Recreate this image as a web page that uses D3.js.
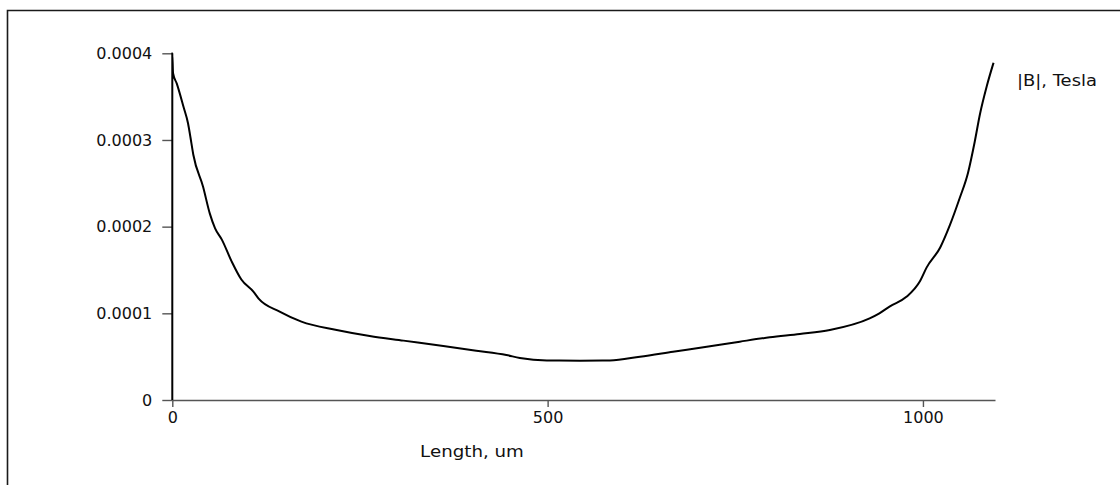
<!DOCTYPE html>
<html>
<head>
<meta charset="utf-8">
<script src="https://cdn.jsdelivr.net/npm/d3@7/dist/d3.min.js"></script>
<style>
  html, body { margin: 0; padding: 0; background: #ffffff; }
  svg { display: block; }
  text { font-family: "DejaVu Sans", Verdana, sans-serif; fill: #111; }
</style>
</head>
<body>
<svg id="chart" width="1120" height="485"></svg>
<script>
// Data
const lengthUm = [0, 0, 1, 6, 15, 21, 24, 28, 41, 50, 57, 66, 79, 92, 108, 115, 143, 172, 219, 263, 308, 361, 405, 445, 463, 499, 543, 583, 623, 667, 712, 756, 796, 836, 876, 929, 942, 956, 978, 996, 1005, 1023, 1036, 1049, 1060, 1069, 1076, 1085, 1094];
const bTesla = [0, 4.0e-4, 3.77e-4, 3.65e-4, 3.38e-4, 3.19e-4, 3.04e-4, 2.83e-4, 2.46e-4, 2.15e-4, 1.98e-4, 1.85e-4, 1.6e-4, 1.39e-4, 1.25e-4, 1.17e-4, 1.02e-4, 0.904e-4, 0.808e-4, 0.738e-4, 0.685e-4, 0.623e-4, 0.569e-4, 0.519e-4, 0.485e-4, 0.456e-4, 0.454e-4, 0.456e-4, 0.50e-4, 0.557e-4, 0.615e-4, 0.673e-4, 0.723e-4, 0.762e-4, 0.808e-4, 0.942e-4, 1.0e-4, 1.08e-4, 1.19e-4, 1.37e-4, 1.53e-4, 1.76e-4, 2.02e-4, 2.33e-4, 2.62e-4, 2.98e-4, 3.3e-4, 3.62e-4, 3.89e-4];
const xTicks = [0, 500, 1000];
const xTickLabels = ["0", "500", "1000"];
const yTicks = [0, 0.0001, 0.0002, 0.0003, 0.0004];
const yTickLabels = ["0", "0.0001", "0.0002", "0.0003", "0.0004"];
const xTitle = "Length, um";
const seriesName = "|B|, Tesla";

const svg = d3.select("#chart");

// frame (left and top edges only visible)
svg.append("path")
  .attr("d", "M7.5,485 L7.5,10.5 L1120,10.5")
  .attr("fill", "none").attr("stroke", "#1a1a1a").attr("stroke-width", 1.6);

const x = d3.scaleLinear().domain([0, 1096]).range([172.3, 995]);
const y = d3.scaleLinear().domain([0, 0.0004]).range([400, 53.3]);

const axisColor = "#555";

// x axis
const gx = svg.append("g").attr("transform", "translate(0,400)")
  .call(d3.axisBottom(x).tickValues(xTicks).tickFormat((d, i) => xTickLabels[i])
    .tickSizeInner(7).tickSizeOuter(0).tickPadding(5));
gx.select(".domain").attr("stroke", axisColor).attr("stroke-width", 1.4);
gx.selectAll(".tick line").attr("stroke", axisColor).attr("stroke-width", 1.4);
gx.selectAll(".tick text").attr("font-size", 16).attr("fill", "#111")
  .attr("font-family", "DejaVu Sans");

// y axis
const gy = svg.append("g").attr("transform", "translate(172.3,0)")
  .call(d3.axisLeft(y).tickValues(yTicks).tickFormat((d, i) => yTickLabels[i])
    .tickSizeInner(10).tickSizeOuter(0).tickPadding(10));
gy.select(".domain").remove();
gy.selectAll(".tick line").attr("stroke", axisColor).attr("stroke-width", 1.4);
gy.selectAll(".tick text").attr("font-size", 16).attr("fill", "#111")
  .attr("font-family", "DejaVu Sans");

// curve
const pts = lengthUm.map((d, i) => [d, bTesla[i]]);
svg.append("path")
  .datum(pts)
  .attr("fill", "none")
  .attr("stroke", "#000")
  .attr("stroke-width", 2)
  .attr("stroke-linejoin", "round")
  .attr("d", d3.line().x(d => x(d[0])).y(d => y(d[1])).curve(d3.curveMonotoneX));

// axis title
svg.append("text")
  .attr("transform", "translate(472,457) scale(1.14,1)")
  .attr("text-anchor", "middle")
  .attr("font-size", 16)
  .text(xTitle);

// series label
svg.append("text")
  .attr("transform", "translate(1017,86) scale(1.12,1)")
  .attr("text-anchor", "start")
  .attr("font-size", 16)
  .text(seriesName);
</script>
</body>
</html>
